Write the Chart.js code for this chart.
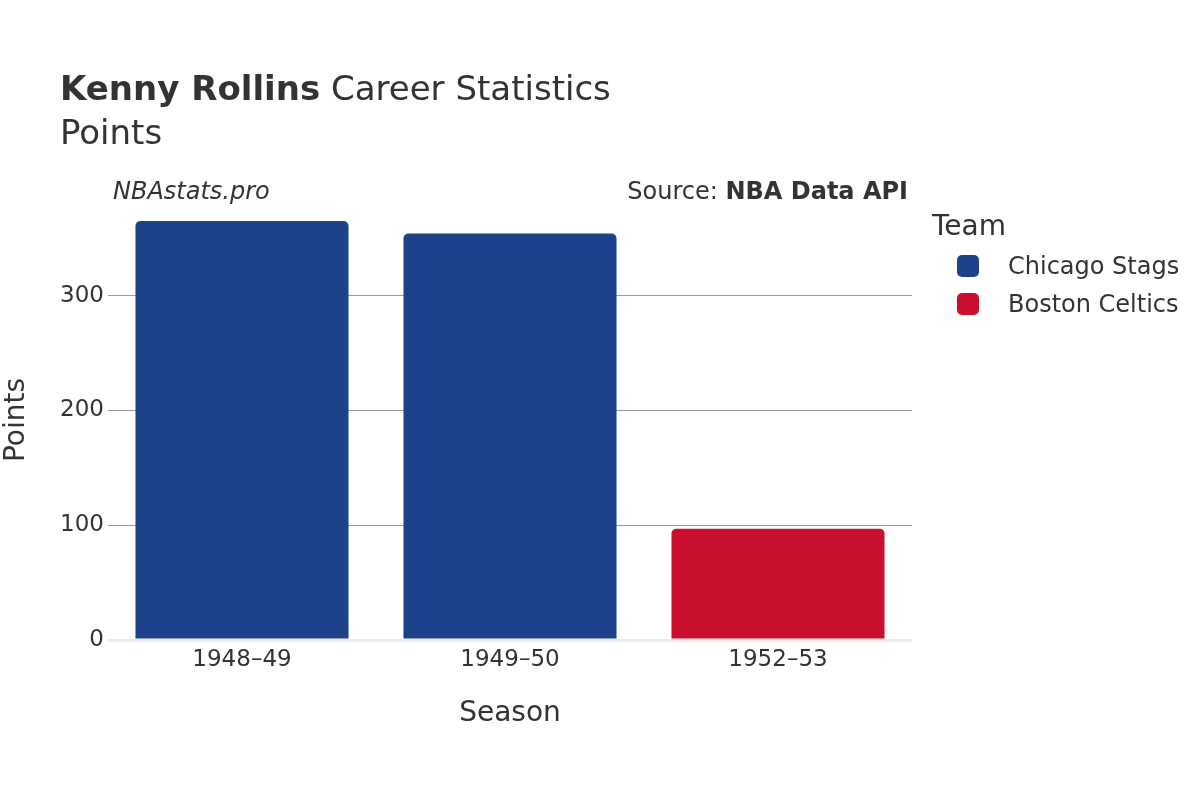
<!DOCTYPE html>
<html><head><meta charset="utf-8">
<script src="https://cdn.jsdelivr.net/npm/chart.js@4/dist/chart.umd.min.js"></script>
<style>
html,body{margin:0;padding:0;background:#fff;}
#wrap{position:relative;width:1200px;height:800px;font-family:"DejaVu Sans",sans-serif;color:#333;}
canvas{position:absolute;left:0;top:0;}
.t{position:absolute;white-space:nowrap;line-height:1.2;}
.sw{position:absolute;width:22px;height:22px;border-radius:5px;}
</style></head>
<body><div id="wrap">
<canvas id="c" width="1200" height="800"></canvas>
<div class="t" style="left:60px;top:68px;font-size:34px;color:#333;"><b>Kenny Rollins</b> Career Statistics</div>
<div class="t" style="left:60px;top:112px;font-size:34px;color:#333;">Points</div>
<div class="t" style="left:113px;top:177px;font-size:24px;font-style:italic;color:#333;">NBAstats.pro</div>
<div class="t" style="right:292px;top:177px;font-size:24px;color:#333;">Source: <b>NBA Data API</b></div>
<div class="t" style="left:932px;top:209px;font-size:28px;color:#333;">Team</div>
<div class="sw" style="left:957px;top:255px;background:#1D428A;"></div>
<div class="t" style="left:1008px;top:252px;font-size:24px;color:#333;">Chicago Stags</div>
<div class="sw" style="left:957px;top:293px;background:#C8102E;"></div>
<div class="t" style="left:1008px;top:290px;font-size:24px;color:#333;">Boston Celtics</div>
</div>
<script>
const seasons = ["1948\u201349", "1949\u201350", "1952\u201353"];
const chicagoStags = [365, 354, null];
const bostonCeltics = [null, null, 97];
const yTicks = [0, 100, 200, 300];
const teamNames = ["Chicago Stags", "Boston Celtics"];
const teamColors = ["#1D428A", "#C8102E"];

const maxVal = Math.max(...chicagoStags.filter(v=>v!=null), ...bostonCeltics.filter(v=>v!=null));
const font = "DejaVu Sans";
new Chart(document.getElementById('c'), {
  type: 'bar',
  data: {
    labels: seasons,
    datasets: [
      {label: teamNames[0], data: chicagoStags, backgroundColor: teamColors[0]},
      {label: teamNames[1], data: bostonCeltics, backgroundColor: teamColors[1]}
    ]
  },
  options: {
    responsive: false,
    animation: false,
    devicePixelRatio: 1,
    layout: {padding: {top: 200, right: 288, bottom: 65, left: 0}},
    datasets: {bar: {categoryPercentage: 1, barPercentage: 0.795, borderRadius: 5, borderSkipped: 'start'}},
    plugins: {legend: {display: false}, tooltip: {enabled: false}, title: {display: false}},
    scales: {
      x: {
        stacked: true,
        grid: {display: false, drawTicks: false},
        border: {display: false},
        ticks: {color: '#333', font: {family: font, size: 23}, padding: 6, maxRotation: 0},
        title: {display: true, text: 'Season', color: '#333', font: {family: font, size: 28}, padding: {top: 0, bottom: 4}},
        afterFit: s => { s.height = 95; }
      },
      y: {
        stacked: true,
        min: 0,
        max: maxVal * 1.05,
        afterBuildTicks: s => { s.ticks = yTicks.map(v => ({value: v})); },
        grid: {
          drawTicks: false,
          color: c => c.tick && c.tick.value === 0 ? '#ebebeb' : '#9a9a9a',
          lineWidth: c => c.tick && c.tick.value === 0 ? 3 : 1
        },
        border: {display: false},
        ticks: {color: '#333', font: {family: font, size: 23}, padding: 4},
        title: {display: true, text: 'Points', color: '#333', font: {family: font, size: 28}, padding: {top: 0, bottom: 0}},
        afterFit: s => { s.width = 108; }
      }
    }
  }
});
</script>
</body></html>
